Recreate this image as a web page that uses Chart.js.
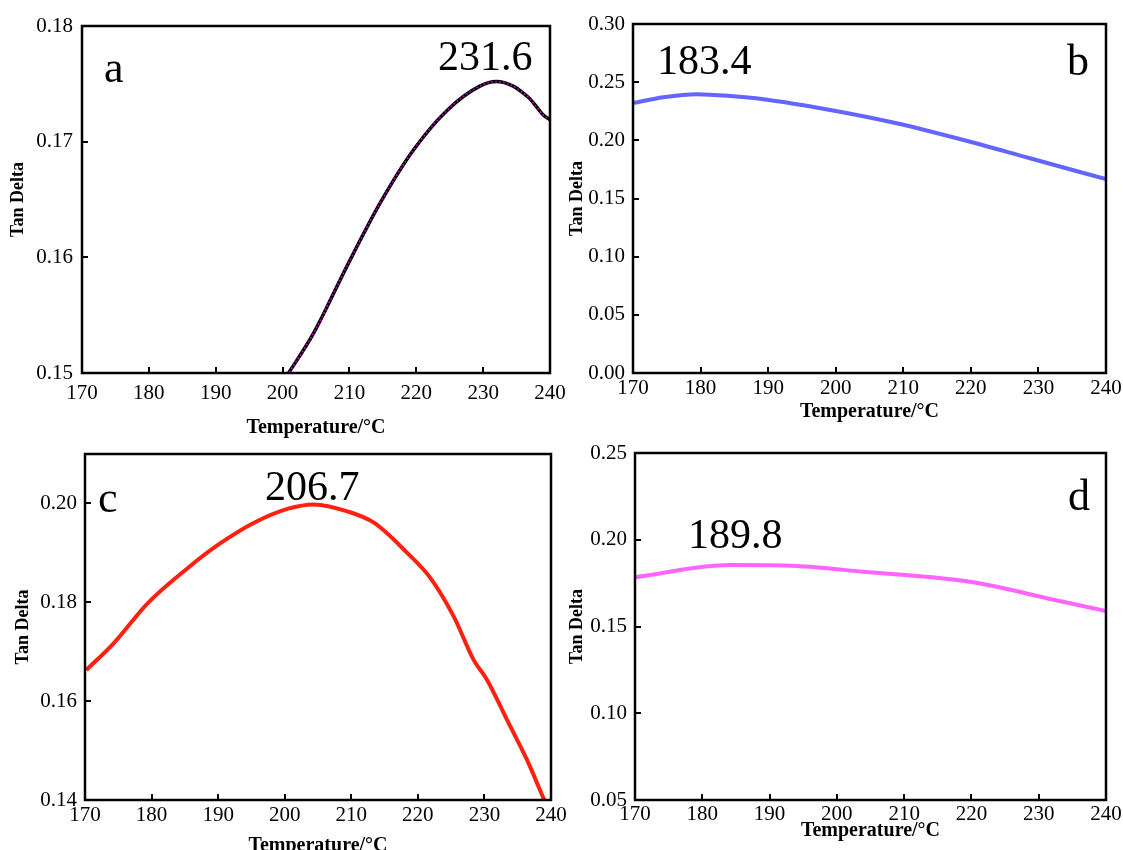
<!DOCTYPE html>
<html>
<head>
<meta charset="utf-8">
<script src="https://cdn.jsdelivr.net/npm/chart.js@4.4.0/dist/chart.umd.min.js"></script>
<style>
  html, body { margin: 0; padding: 0; background: #fff; overflow: hidden; }
  #wrap { position: relative; width: 1123px; height: 850px; overflow: hidden; background: #fff; }
  canvas { position: absolute; }
</style>
</head>
<body>
<div id="wrap">
  <canvas id="ca" width="580" height="440" style="left:0;top:0"></canvas>
  <canvas id="cb" width="558" height="440" style="left:565px;top:0"></canvas>
  <canvas id="cc" width="580" height="430" style="left:0;top:430px"></canvas>
  <canvas id="cd" width="558" height="430" style="left:565px;top:430px"></canvas>
</div>
<script>
// data
const tempA = [200.0, 200.9, 204.6, 209.6, 214.6, 219.6, 224.6, 229.5, 232.0, 234.5, 236.0, 237.0, 238.0, 239.0, 240.0];
const tanA  = [0.1492, 0.1500, 0.1534, 0.1592, 0.1647, 0.1693, 0.1727, 0.1748, 0.1752, 0.1748, 0.1742, 0.1737, 0.1730, 0.1723, 0.1719];

const tempB = [170, 174.5, 179.4, 184.4, 189.3, 199.2, 209.0, 218.9, 228.75, 240];
const tanB  = [0.2321, 0.2370, 0.2396, 0.2381, 0.2353, 0.2261, 0.2147, 0.2003, 0.1846, 0.1666];

const tempC = [170.2, 174.3, 179.4, 185.4, 190.4, 195.4, 200.4, 204.4, 209.4, 213.4, 218.4, 221.9, 225.4, 228.4, 230.4, 233.4, 236.4, 238.9, 239.4];
const tanC  = [0.1663, 0.1717, 0.1798, 0.1869, 0.1920, 0.1961, 0.1989, 0.1998, 0.1984, 0.1961, 0.1900, 0.1849, 0.1771, 0.1683, 0.1643, 0.1562, 0.1481, 0.1403, 0.1388];

const tempD = [170, 184.1, 194.0, 203.9, 218.8, 223.8, 231.2, 240];
const tanD  = [0.1784, 0.1854, 0.1849, 0.1816, 0.1764, 0.1729, 0.1663, 0.1589];

const tempTicks = [170, 180, 190, 200, 210, 220, 230, 240];
const yTicksA = [0.15, 0.16, 0.17, 0.18];
const yTicksB = [0, 0.05, 0.10, 0.15, 0.20, 0.25, 0.30];
const yTicksC = [0.14, 0.16, 0.18, 0.20];
const yTicksD = [0.05, 0.10, 0.15, 0.20, 0.25];

const SERIF = '"Liberation Serif", "Times New Roman", serif';

function pts(xs, ys) {
  return xs.map((x, i) => ({ x: x, y: ys[i] }));
}

// frame, inward ticks and the in-plot labels
const frameTicks = {
  id: 'frameTicks',
  afterDatasetsDraw(chart, args, opts) {
    const { ctx, chartArea: a } = chart;
    const x = chart.scales.x, y = chart.scales.y;
    ctx.save();
    ctx.strokeStyle = '#000';
    ctx.lineWidth = 2;
    ctx.beginPath();
    x.ticks.forEach(t => {
      const px = Math.round(x.getPixelForValue(t.value));
      ctx.moveTo(px, a.bottom);
      ctx.lineTo(px, a.bottom - 6);
    });
    y.ticks.forEach(t => {
      const py = Math.round(y.getPixelForValue(t.value));
      ctx.moveTo(a.left, py);
      ctx.lineTo(a.left + 6, py);
    });
    ctx.stroke();
    ctx.lineWidth = 2.5;
    ctx.strokeRect(a.left, a.top, a.right - a.left, a.bottom - a.top);
    ctx.fillStyle = '#000';
    ctx.textBaseline = 'alphabetic';
    ctx.textAlign = 'left';
    (opts.notes || []).forEach(n => {
      ctx.font = n.size + 'px ' + SERIF;
      ctx.fillText(n.text, n.x, n.y);
    });
    ctx.restore();
  }
};

function makeChart(id, cfg) {
  return new Chart(document.getElementById(id), {
    type: 'line',
    data: { datasets: cfg.datasets },
    options: {
      responsive: false,
      animation: false,
      layout: { padding: cfg.pad },
      plugins: {
        legend: { display: false },
        tooltip: { enabled: false },
        frameTicks: { notes: cfg.notes }
      },
      elements: {
        point: { radius: 0 },
        line: { cubicInterpolationMode: 'monotone' }
      },
      scales: {
        x: {
          type: 'linear', min: 170, max: 240,
          grid: { display: false, drawTicks: false },
          border: { display: false },
          afterBuildTicks: s => { s.ticks = tempTicks.map(v => ({ value: v })); },
          afterFit: s => { s.height = cfg.xH; s.paddingLeft = 0; s.paddingRight = 0; },
          ticks: {
            padding: cfg.xTickPad, color: '#000', maxRotation: 0, autoSkip: false,
            font: { family: SERIF, size: 21, lineHeight: 1 }
          },
          title: {
            display: true, text: 'Temperature/°C', color: '#000',
            font: { family: SERIF, size: 20, weight: 'bold', lineHeight: 1.2 },
            padding: { top: 0, bottom: cfg.xTitlePad }
          }
        },
        y: {
          type: 'linear', min: cfg.yMin, max: cfg.yMax,
          grid: { display: false, drawTicks: false },
          border: { display: false },
          afterBuildTicks: s => { s.ticks = cfg.yTicks.map(v => ({ value: v })); },
          afterFit: s => { s.width = cfg.yW; s.paddingTop = 0; s.paddingBottom = 0; },
          ticks: {
            padding: cfg.yTickPad, color: '#000',
            font: { family: SERIF, size: 21, lineHeight: 1 },
            callback: v => Number(v).toFixed(2)
          },
          title: {
            display: true, text: 'Tan Delta', color: '#000',
            font: { family: SERIF, size: 18, weight: 'bold', lineHeight: 1.2 },
            padding: { top: cfg.yTitlePad, bottom: 0 }
          }
        }
      }
    },
    plugins: [frameTicks]
  });
}

// chart.js paints dataset 0 last, so the dotted magenta one goes first to sit on top
makeChart('ca', {
  datasets: [
    { data: pts(tempA, tanA), borderColor: '#e000e0', borderWidth: 1.6, borderDash: [1.5, 2.5] },
    { data: pts(tempA, tanA), borderColor: '#000', borderWidth: 3.5 }
  ],
  pad: { left: 0, top: 26, right: 30, bottom: 0 },
  yMin: 0.15, yMax: 0.18, yTicks: yTicksA,
  xH: 67, yW: 82, xTickPad: 10, xTitlePad: 0, yTickPad: 9, yTitlePad: 8,
  notes: [{ text: 'a', size: 44, x: 104, y: 82 }, { text: '231.6', size: 42, x: 438, y: 70 }]
});

makeChart('cb', {
  datasets: [{ data: pts(tempB, tanB), borderColor: '#6464ff', borderWidth: 4 }],
  pad: { left: 0, top: 24, right: 17, bottom: 0 },
  yMin: 0, yMax: 0.30, yTicks: yTicksB,
  xH: 67, yW: 68, xTickPad: 5, xTitlePad: 16, yTickPad: 8, yTitlePad: 2,
  notes: [{ text: 'b', size: 44, x: 502, y: 75 }, { text: '183.4', size: 42, x: 92, y: 74 }]
});

makeChart('cc', {
  datasets: [{ data: pts(tempC, tanC), borderColor: '#ff2010', borderWidth: 4 }],
  pad: { left: 0, top: 24, right: 29, bottom: 0 },
  yMin: 0.14, yMax: 0.21, yTicks: yTicksC,
  xH: 60, yW: 85, xTickPad: 5, xTitlePad: 2, yTickPad: 8, yTitlePad: 13,
  notes: [{ text: 'c', size: 44, x: 98, y: 82 }, { text: '206.7', size: 42, x: 265, y: 70 }]
});

makeChart('cd', {
  datasets: [{ data: pts(tempD, tanD), borderColor: '#ff64ff', borderWidth: 4 }],
  pad: { left: 0, top: 23, right: 17, bottom: 0 },
  yMin: 0.05, yMax: 0.25, yTicks: yTicksD,
  xH: 60, yW: 70, xTickPad: 4, xTitlePad: 17, yTickPad: 8, yTitlePad: 2,
  notes: [{ text: 'd', size: 44, x: 503, y: 80 }, { text: '189.8', size: 42, x: 123, y: 118 }]
});
</script>
</body>
</html>
